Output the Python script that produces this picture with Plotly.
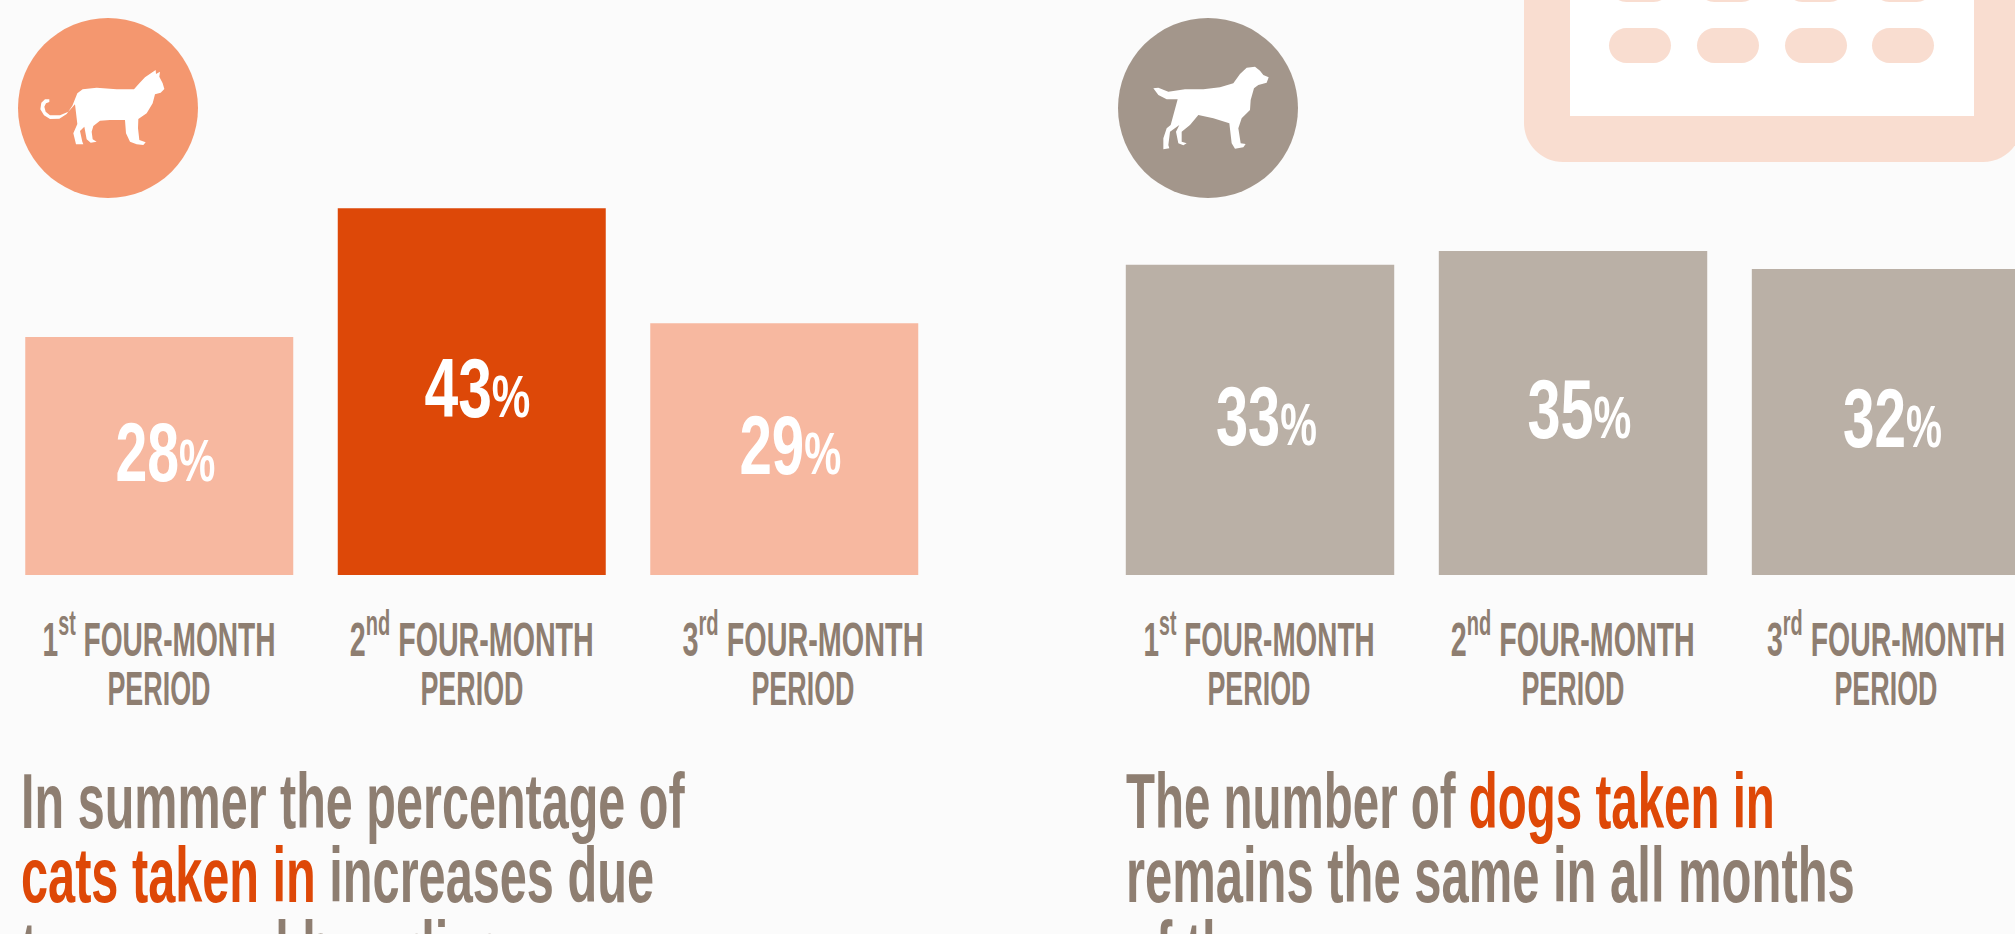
import json
import plotly.graph_objects as go

W, H = 2015, 934
BG = "#FBFBFB"
TEXT = "#8E7E71"
ORANGE = "#DE4807"
FONT = "Liberation Sans"

period_labels = ["1<sup>st</sup> FOUR-MONTH", "2<sup>nd</sup> FOUR-MONTH", "3<sup>rd</sup> FOUR-MONTH"]
cat_labels = [28, 43, 29]
dog_labels = [33, 35, 32]
# bar heights (each panel has its own scale)
cat_values = [27.9, 43.0, 29.5]
dog_values = [33.5, 35.0, 33.05]

cat_headline = [
    "In summer the percentage of",
    f'<span style="color:{ORANGE}">cats taken in</span> increases due',
    "to seasonal breeding",
]
dog_headline = [
    f'The number of <span style="color:{ORANGE}">dogs taken in</span>',
    "remains the same in all months",
    "of the year",
]

CAT_ICON = [(148,298),(135,298),(124,308),(121,328),(132,346),(150,357),(178,356),(200,342),(217,317),(232,280),(248,268),(290,263),(350,268),(402,268),(418,250),(435,232),(467,210),(468,222),(480,215),(478,230),(488,250),(493,267),(482,278),(465,283),(458,310),(440,340),(415,357),(414,385),(418,420),(437,427),(430,435),(410,433),(390,425),(378,400),(375,360),(330,360),(300,362),(280,378),(275,395),(278,418),(290,425),(272,428),(260,418),(253,380),(240,393),(247,425),(250,433),(228,433),(220,400),(232,372),(225,313),(205,335),(180,346),(150,346),(137,335),(133,320),(138,310),(148,306)]
DOG_ICON = [(220,265),(235,263),(265,275),(315,268),(370,268),(420,262),(460,250),(480,222),(500,203),(525,200),(540,212),(550,225),(566,232),(560,248),(535,255),(522,265),(512,300),(510,330),(485,355),(475,385),(482,430),(497,432),(490,442),(465,446),(455,430),(448,370),(400,355),(355,345),(330,375),(305,395),(305,425),(320,430),(310,436),(295,430),(288,395),(298,375),(270,395),(265,435),(268,445),(250,448),(250,415),(260,385),(272,375),(293,298),(260,298),(235,285)]


def fx(x):
    return x / W


def fy(y):
    return 1 - y / H


def icon_path(points, ox):
    parts = [f"{'M' if i == 0 else 'L'}{fx(ox + px / 3):.5f},{fy(py / 3):.5f}" for i, (px, py) in enumerate(points)]
    return " ".join(parts) + " Z"


def rect(x0, y0, x1, y1, color):
    return dict(type="rect", xref="paper", yref="paper", x0=fx(x0), x1=fx(x1), y0=fy(y0), y1=fy(y1),
                fillcolor=color, line_width=0, layer="below")


def rrect(x0, y0, x1, y1, r, color):
    def k(x, y):
        return f"{fx(x):.5f},{fy(y):.5f}"
    n = 0.45 * r
    p = (f"M{k(x0 + r, y0)} L{k(x1 - r, y0)} C{k(x1 - n, y0)} {k(x1, y0 + n)} {k(x1, y0 + r)} "
         f"L{k(x1, y1 - r)} C{k(x1, y1 - n)} {k(x1 - n, y1)} {k(x1 - r, y1)} "
         f"L{k(x0 + r, y1)} C{k(x0 + n, y1)} {k(x0, y1 - n)} {k(x0, y1 - r)} "
         f"L{k(x0, y0 + r)} C{k(x0, y0 + n)} {k(x0 + n, y0)} {k(x0 + r, y0)} Z")
    return dict(type="path", xref="paper", yref="paper", path=p, fillcolor=color, line_width=0, layer="below")


def circle(cx, cy, r, color):
    return dict(type="circle", xref="paper", yref="paper", x0=fx(cx - r), x1=fx(cx + r), y0=fy(cy + r), y1=fy(cy - r),
                fillcolor=color, line_width=0, layer="below")


def label(x, baseline, text, size, color, anchor="left"):
    return dict(xref="paper", yref="paper", x=fx(x), y=fy(baseline + size * 0.27), xanchor=anchor, yanchor="bottom",
                text=text, showarrow=False, borderpad=0, borderwidth=0, align=anchor,
                font=dict(family=FONT, size=size, color=color, weight=700))


fig = go.Figure()
fig.add_trace(go.Bar(x=[0, 1, 2], y=cat_values, marker=dict(color=["#F7B8A0", "#DD4808", "#F7B8A0"], line_width=0),
                     xaxis="x", yaxis="y", hoverinfo="skip"))
fig.add_trace(go.Bar(x=[0, 1, 2], y=dog_values, marker=dict(color="#BAB0A6", line_width=0),
                     xaxis="x2", yaxis="y2", hoverinfo="skip"))

shapes = [circle(108, 108, 90, "#F4976F"), circle(1208, 108, 90, "#A3968B"),
          dict(type="path", xref="paper", yref="paper", path=icon_path(CAT_ICON, 0), fillcolor="white", line_width=0, layer="above"),
          dict(type="path", xref="paper", yref="paper", path=icon_path(DOG_ICON, 1080), fillcolor="white", line_width=0, layer="above"),
          rrect(1524, -60, 2022, 162, 39, "#F9DDD0"), rect(1570, -60, 1974, 116, "#FFFFFF")]
for x0 in (1609, 1697, 1785, 1872):
    shapes.append(rrect(x0, 28, x0 + 62, 63, 17.5, "#F9DDD0"))
    shapes.append(rrect(x0, -33, x0 + 62, 2, 17.5, "#F9DDD0"))

annotations = []
targets = []


def value_note(axis, i, lab, height, width):
    annotations.append(dict(xref=f"x{axis}", yref=f"y{axis}", x=i, y=height / 2, xshift=6, yshift=4, showarrow=False,
                            text=f'{lab}<span style="font-size:60px">%</span>',
                            font=dict(family=FONT, size=84, color="white", weight=700)))
    targets.append(width)


for i, (lab, width) in enumerate(zip(cat_labels, (100, 106, 102))):
    value_note("", i, lab, cat_values[i], width)
for i, (lab, width) in enumerate(zip(dog_labels, (101, 104, 99))):
    value_note("2", i, lab, dog_values[i], width)

period_centres = (159, 472, 803, 1259, 1573, 1886)
period_widths = (233, 244, 241, 231, 244, 238)
for n, (cx, width) in enumerate(zip(period_centres, period_widths)):
    annotations.append(label(cx, 653, period_labels[n % 3], 49, TEXT, "center"))
    targets.append(width)
    annotations.append(label(cx, 702, "PERIOD", 49, TEXT, "center"))
    targets.append(103)

for i, (line, width) in enumerate(zip(cat_headline, (664, 633, None))):
    annotations.append(label(21, 823 + 74 * i, line, 77, TEXT))
    targets.append(width)
for i, (line, width) in enumerate(zip(dog_headline, (649, 729, None))):
    annotations.append(label(1126, 823 + 74 * i, line, 77, TEXT))
    targets.append(width)

axis_off = dict(visible=False, fixedrange=True)
fig.update_layout(
    width=W, height=H, autosize=False, margin=dict(l=0, r=0, t=0, b=0, pad=0),
    paper_bgcolor=BG, plot_bgcolor="rgba(0,0,0,0)", showlegend=False, bargap=0.1424,
    xaxis=dict(domain=[3 / W, 940.5 / W], range=[-0.5, 2.5], **axis_off),
    yaxis=dict(domain=[fy(575), 1], range=[0, 575 / 8.53], **axis_off),
    xaxis2=dict(domain=[1103.5 / W, 1], range=[-0.5, 2.412], **axis_off),
    yaxis2=dict(domain=[fy(575), 1], range=[0, 575 / 9.26], **axis_off),
    shapes=shapes, annotations=annotations,
)

# The reference face is a condensed one that is not installed: narrow the real text to the reference widths.
condense = """
document.documentElement.style.overflow='hidden';
document.body.style.margin='0';
var targets = %s;
var last = 1;
document.querySelectorAll('.annotation').forEach(function (g) {
  var i = +g.getAttribute('data-index');
  var t = g.querySelector('text.annotation-text');
  if (!t) return;
  var box = t.getBBox();
  var s = targets[i] ? targets[i] / box.width : last;
  last = s;
  var c = t.getAttribute('text-anchor') === 'start' ? box.x : box.x + box.width / 2;
  t.setAttribute('transform', 'translate(' + c + ',0) scale(' + s + ',1) translate(' + (-c) + ',0)');
});
""" % json.dumps(targets)
fig.write_html("out.html", config=dict(displayModeBar=False), post_script=condense)
